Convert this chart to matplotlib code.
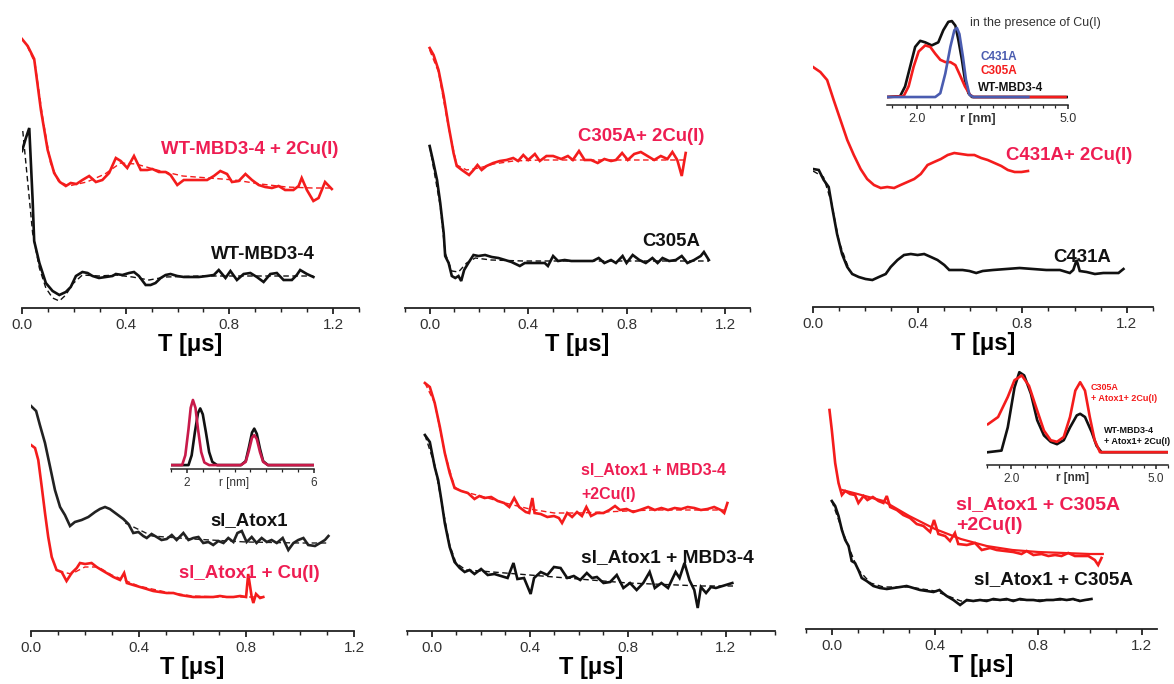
import matplotlib
matplotlib.use("Agg")
import matplotlib.pyplot as plt
import numpy as np

plt.rcParams['font.family'] = ['Liberation Sans', 'DejaVu Sans']

W, H = 1174, 684
RED = '#f41c1c'
TXTRED = '#ee1d52'
BLK = '#111111'
BLUE = '#4a5cb0'
CRIM = '#c81a4a'

# ---- panel 1: WT-MBD3-4 ----
p1_red_t = [0, 0.022, 0.047, 0.073, 0.099, 0.124, 0.146, 0.169, 0.188, 0.21, 0.233, 0.259, 0.285, 0.31,
            0.336, 0.362, 0.381, 0.406, 0.432, 0.458, 0.483, 0.503, 0.528, 0.554, 0.573, 0.599, 0.624,
            0.656, 0.682, 0.714, 0.74, 0.765, 0.791, 0.81, 0.836, 0.862, 0.887, 0.913, 0.938, 0.964,
            0.99, 1.015, 1.047, 1.067, 1.079, 1.099, 1.124, 1.144, 1.169, 1.195]
p1_red_v = [2.69, 2.62, 2.49, 1.98, 1.58, 1.35, 1.26, 1.22, 1.25, 1.24, 1.28, 1.32, 1.26, 1.28,
            1.35, 1.50, 1.47, 1.40, 1.52, 1.38, 1.38, 1.39, 1.36, 1.36, 1.33, 1.23, 1.28,
            1.28, 1.28, 1.28, 1.32, 1.37, 1.34, 1.26, 1.27, 1.34, 1.28, 1.23, 1.21, 1.20,
            1.22, 1.18, 1.18, 1.22, 1.30, 1.18, 1.07, 1.10, 1.26, 1.19]
p1_redfit_t = [0.02, 0.05, 0.08, 0.11, 0.14, 0.18, 0.25, 0.32, 0.38, 0.44, 0.52, 0.62, 0.72, 0.82, 0.92, 1.02, 1.12, 1.2]
p1_redfit_v = [2.62, 2.45, 1.90, 1.45, 1.27, 1.22, 1.26, 1.34, 1.45, 1.44, 1.38, 1.32, 1.30, 1.28, 1.24, 1.21, 1.20, 1.20]
p1_blk_t = [0, 0.015, 0.028, 0.041, 0.047, 0.067, 0.092, 0.118, 0.144, 0.169, 0.188, 0.208, 0.233, 0.253,
            0.272, 0.297, 0.323, 0.349, 0.362, 0.387, 0.413, 0.432, 0.451, 0.477, 0.496, 0.515, 0.535,
            0.554, 0.573, 0.599, 0.624, 0.656, 0.682, 0.714, 0.74, 0.759, 0.785, 0.804, 0.829, 0.855,
            0.881, 0.906, 0.932, 0.958, 0.983, 1.009, 1.041, 1.06, 1.073, 1.099, 1.124]
p1_blk_v = [1.57, 1.70, 1.80, 1.08, 0.67, 0.45, 0.25, 0.17, 0.13, 0.16, 0.21, 0.32, 0.36, 0.35,
            0.32, 0.30, 0.31, 0.32, 0.34, 0.33, 0.35, 0.36, 0.32, 0.23, 0.23, 0.25, 0.30,
            0.33, 0.34, 0.32, 0.31, 0.31, 0.31, 0.32, 0.33, 0.38, 0.30, 0.37, 0.28, 0.34,
            0.35, 0.31, 0.26, 0.34, 0.35, 0.28, 0.28, 0.33, 0.38, 0.34, 0.31]
p1_blkfit_t = [0.003, 0.041, 0.067, 0.092, 0.118, 0.144, 0.169, 0.195, 0.233, 0.297, 0.362, 0.426, 0.49, 0.554, 0.682, 0.81, 0.938, 1.124]
p1_blkfit_v = [1.77, 0.75, 0.40, 0.20, 0.10, 0.07, 0.13, 0.24, 0.33, 0.32, 0.33, 0.31, 0.28, 0.31, 0.32, 0.32, 0.32, 0.32]

# ---- panel 2: C305A ----
p2_red_t = [0, 0.016, 0.036, 0.057, 0.077, 0.097, 0.11, 0.131, 0.16, 0.178, 0.194, 0.211, 0.231, 0.258,
            0.285, 0.312, 0.339, 0.359, 0.38, 0.4, 0.427, 0.447, 0.474, 0.501, 0.534, 0.561, 0.581,
            0.606, 0.629, 0.655, 0.682, 0.709, 0.736, 0.756, 0.781, 0.804, 0.83, 0.857, 0.884, 0.911,
            0.938, 0.965, 0.985, 1.005, 1.023, 1.039]
p2_red_v = [2.60, 2.53, 2.38, 2.12, 1.82, 1.55, 1.42, 1.38, 1.33, 1.38, 1.43, 1.38, 1.42, 1.45,
            1.47, 1.48, 1.50, 1.47, 1.53, 1.48, 1.54, 1.47, 1.52, 1.52, 1.49, 1.52, 1.48,
            1.57, 1.48, 1.48, 1.45, 1.49, 1.47, 1.48, 1.55, 1.48, 1.54, 1.56, 1.52, 1.48,
            1.52, 1.49, 1.56, 1.48, 1.32, 1.55]
p2_redfit_t = [0.0, 0.036, 0.077, 0.11, 0.15, 0.2, 0.26, 0.34, 0.45, 0.6, 0.75, 0.9, 1.04]
p2_redfit_v = [2.58, 2.36, 1.80, 1.43, 1.38, 1.40, 1.44, 1.47, 1.48, 1.48, 1.48, 1.48, 1.48]
p2_blk_t = [0, 0.013, 0.03, 0.043, 0.057, 0.063, 0.077, 0.09, 0.104, 0.117, 0.128, 0.14, 0.157, 0.178,
            0.198, 0.225, 0.252, 0.279, 0.306, 0.332, 0.366, 0.386, 0.413, 0.44, 0.467, 0.48, 0.501,
            0.521, 0.548, 0.575, 0.602, 0.635, 0.662, 0.686, 0.709, 0.736, 0.756, 0.783, 0.799, 0.824,
            0.851, 0.877, 0.904, 0.925, 0.945, 0.972, 0.999, 1.023, 1.046, 1.073, 1.1, 1.113, 1.133]
p2_blk_v = [1.62, 1.48, 1.28, 1.05, 0.75, 0.52, 0.45, 0.32, 0.30, 0.32, 0.27, 0.38, 0.45, 0.53,
            0.52, 0.53, 0.51, 0.50, 0.48, 0.46, 0.42, 0.45, 0.45, 0.45, 0.45, 0.42, 0.52,
            0.47, 0.48, 0.47, 0.47, 0.47, 0.47, 0.50, 0.45, 0.48, 0.45, 0.52, 0.45, 0.53,
            0.48, 0.45, 0.50, 0.45, 0.50, 0.47, 0.48, 0.52, 0.45, 0.48, 0.52, 0.56, 0.48]
p2_blkfit_t = [0, 0.043, 0.063, 0.09, 0.117, 0.15, 0.185, 0.25, 0.38, 0.65, 0.92, 1.133]
p2_blkfit_v = [1.62, 1.02, 0.55, 0.37, 0.36, 0.45, 0.50, 0.48, 0.47, 0.47, 0.47, 0.47]

# ---- panel 3: C431A ----
p3_red_t = [0, 0.028, 0.054, 0.079, 0.105, 0.131, 0.156, 0.182, 0.207, 0.233, 0.259, 0.284, 0.31, 0.335,
            0.361, 0.387, 0.412, 0.438, 0.463, 0.489, 0.515, 0.54, 0.566, 0.592, 0.617, 0.643, 0.668,
            0.694, 0.72, 0.745, 0.771, 0.797, 0.822]
p3_red_v = [2.40, 2.35, 2.27, 2.07, 1.87, 1.67, 1.52, 1.38, 1.28, 1.22, 1.19, 1.20, 1.19, 1.22,
            1.25, 1.28, 1.33, 1.42, 1.45, 1.48, 1.52, 1.54, 1.53, 1.52, 1.52, 1.49, 1.47,
            1.44, 1.41, 1.37, 1.35, 1.35, 1.36]
p3_blk_t = [0, 0.022, 0.041, 0.06, 0.073, 0.092, 0.111, 0.131, 0.15, 0.175, 0.201, 0.227, 0.252, 0.278,
            0.297, 0.323, 0.348, 0.374, 0.4, 0.425, 0.451, 0.476, 0.502, 0.521, 0.547, 0.572, 0.598,
            0.624, 0.649, 0.688, 0.739, 0.79, 0.841, 0.892, 0.944, 0.982, 0.995, 1.008, 1.02, 1.046,
            1.078, 1.11, 1.142, 1.168, 1.187]
p3_blk_v = [1.38, 1.37, 1.27, 1.20, 1.00, 0.73, 0.53, 0.40, 0.33, 0.30, 0.28, 0.27, 0.30, 0.33,
            0.40, 0.47, 0.52, 0.53, 0.52, 0.53, 0.50, 0.47, 0.42, 0.37, 0.37, 0.37, 0.36,
            0.34, 0.36, 0.37, 0.38, 0.39, 0.38, 0.37, 0.37, 0.34, 0.37, 0.47, 0.36, 0.35,
            0.33, 0.34, 0.34, 0.34, 0.38]
p3_blkfit_t = [0, 0.04, 0.07, 0.1, 0.14]
p3_blkfit_v = [1.36, 1.30, 1.05, 0.65, 0.36]

# inset 3: distance distributions in the presence of Cu(I)
in3_blk_r = [1.40, 1.66, 1.76, 1.86, 1.96, 2.06, 2.16, 2.29, 2.42, 2.52, 2.62, 2.69, 2.76, 2.82, 2.89, 2.95, 3.02, 3.09, 4.98]
in3_blk_p = [0, 0.01, 0.14, 0.40, 0.66, 0.74, 0.72, 0.68, 0.72, 0.88, 0.99, 1.0, 0.94, 0.75, 0.49, 0.23, 0.05, 0, 0]
in3_red_r = [1.40, 1.73, 1.83, 1.93, 2.03, 2.16, 2.26, 2.36, 2.46, 2.56, 2.66, 2.76, 2.85, 2.95, 3.05, 3.12, 4.95]
in3_red_p = [0, 0.01, 0.14, 0.40, 0.60, 0.68, 0.66, 0.57, 0.49, 0.46, 0.46, 0.42, 0.29, 0.14, 0.03, 0, 0]
in3_blue_r = [1.40, 2.36, 2.46, 2.56, 2.66, 2.74, 2.79, 2.84, 2.91, 2.97, 3.04, 3.12, 4.21]
in3_blue_p = [0, 0, 0.05, 0.31, 0.66, 0.88, 0.91, 0.83, 0.53, 0.23, 0.03, 0, 0]

# ---- panel 4: sl_Atox1 ----
p4_blk_t = [0, 0.019, 0.033, 0.052, 0.071, 0.089, 0.108, 0.126, 0.145, 0.163, 0.188, 0.213, 0.238, 0.256,
            0.275, 0.293, 0.318, 0.343, 0.362, 0.38, 0.399, 0.417, 0.43, 0.448, 0.467, 0.485, 0.504,
            0.523, 0.541, 0.566, 0.585, 0.603, 0.622, 0.64, 0.659, 0.677, 0.696, 0.715, 0.733, 0.752,
            0.767, 0.783, 0.801, 0.82, 0.838, 0.857, 0.876, 0.894, 0.913, 0.935, 0.956, 0.975, 0.993,
            1.012, 1.03, 1.055, 1.074, 1.092, 1.105]
p4_blk_v = [2.25, 2.20, 2.06, 1.88, 1.64, 1.41, 1.24, 1.16, 1.05, 1.09, 1.11, 1.14, 1.19, 1.22,
            1.24, 1.22, 1.17, 1.12, 1.07, 0.98, 0.99, 0.95, 0.93, 0.97, 0.94, 0.91, 0.92,
            0.96, 0.91, 0.98, 0.91, 0.93, 0.94, 0.88, 0.89, 0.86, 0.90, 0.88, 0.93, 0.89,
            0.98, 1.00, 0.89, 0.94, 0.88, 0.93, 0.89, 0.91, 0.88, 0.93, 0.81, 0.88, 0.91,
            0.93, 0.86, 0.85, 0.88, 0.91, 0.95]
p4_blkfit_t = [0.35, 0.45, 0.6, 0.8, 1.0, 1.1]
p4_blkfit_v = [1.08, 0.95, 0.92, 0.89, 0.88, 0.88]
p4_red_t = [0, 0.015, 0.027, 0.04, 0.052, 0.064, 0.077, 0.095, 0.114, 0.132, 0.151, 0.17, 0.182, 0.201,
            0.225, 0.244, 0.262, 0.281, 0.306, 0.331, 0.346, 0.356, 0.38, 0.405, 0.43, 0.454, 0.479,
            0.504, 0.529, 0.554, 0.578, 0.603, 0.628, 0.653, 0.677, 0.702, 0.727, 0.752, 0.777, 0.799,
            0.807, 0.82, 0.826, 0.836, 0.851, 0.863]
p4_red_v = [1.86, 1.83, 1.71, 1.44, 1.18, 0.94, 0.74, 0.61, 0.59, 0.50, 0.58, 0.63, 0.68, 0.67,
            0.68, 0.64, 0.61, 0.58, 0.54, 0.51, 0.58, 0.48, 0.46, 0.44, 0.42, 0.40, 0.39,
            0.38, 0.38, 0.36, 0.35, 0.34, 0.34, 0.34, 0.34, 0.35, 0.34, 0.34, 0.35, 0.34,
            0.57, 0.34, 0.28, 0.37, 0.33, 0.34]
p4_redfit_t = [0.1, 0.15, 0.2, 0.25, 0.3, 0.4, 0.5, 0.6, 0.7, 0.86]
p4_redfit_v = [0.60, 0.57, 0.64, 0.64, 0.56, 0.45, 0.39, 0.35, 0.34, 0.34]

# inset 4
in4_red_r = [1.5, 1.85, 1.95, 2.05, 2.12, 2.19, 2.27, 2.35, 2.45, 2.55, 2.7, 3.7, 3.85, 3.95, 4.05, 4.12, 4.2, 4.3, 4.4, 4.55, 6.0]
in4_red_p = [0, 0, 0.15, 0.55, 0.88, 1.0, 0.88, 0.55, 0.2, 0.04, 0, 0, 0.05, 0.22, 0.42, 0.46, 0.40, 0.2, 0.05, 0, 0]
in4_blk_r = [1.5, 2.05, 2.15, 2.25, 2.35, 2.42, 2.5, 2.6, 2.7, 2.8, 2.95, 3.7, 3.85, 3.95, 4.05, 4.12, 4.2, 4.3, 4.4, 4.55, 6.0]
in4_blk_p = [0, 0, 0.15, 0.5, 0.8, 0.87, 0.78, 0.5, 0.2, 0.05, 0, 0, 0.06, 0.27, 0.50, 0.56, 0.48, 0.25, 0.06, 0, 0]

# ---- panel 5: sl_Atox1 + MBD3-4 ----
p5_red_t = [-0.027, -0.007, 0.013, 0.034, 0.054, 0.074, 0.094, 0.121, 0.148, 0.175, 0.195, 0.216, 0.243,
            0.27, 0.296, 0.317, 0.337, 0.357, 0.384, 0.398, 0.411, 0.42, 0.445, 0.472, 0.499, 0.519,
            0.532, 0.553, 0.573, 0.593, 0.613, 0.631, 0.65, 0.674, 0.701, 0.725, 0.748, 0.768, 0.795,
            0.822, 0.849, 0.883, 0.91, 0.937, 0.964, 0.991, 1.018, 1.044, 1.071, 1.098, 1.125, 1.152,
            1.179, 1.193, 1.206]
p5_red_v = [2.48, 2.44, 2.28, 2.04, 1.78, 1.58, 1.43, 1.40, 1.38, 1.32, 1.35, 1.33, 1.34,
            1.30, 1.28, 1.24, 1.33, 1.24, 1.19, 1.18, 1.33, 1.18, 1.17, 1.14, 1.15, 1.13,
            1.08, 1.18, 1.14, 1.19, 1.15, 1.24, 1.15, 1.18, 1.18, 1.21, 1.25, 1.21, 1.22,
            1.19, 1.21, 1.24, 1.21, 1.23, 1.21, 1.23, 1.22, 1.24, 1.23, 1.21, 1.22, 1.24,
            1.21, 1.18, 1.28]
p5_redfit_t = [-0.027, 0.013, 0.054, 0.094, 0.12, 0.2, 0.3, 0.4, 0.5, 0.6, 0.7, 0.8, 0.9, 1.0, 1.2]
p5_redfit_v = [2.48, 2.28, 1.78, 1.44, 1.40, 1.35, 1.28, 1.22, 1.18, 1.18, 1.19, 1.20, 1.21, 1.21, 1.21]
p5_blk_t = [-0.027, -0.007, 0.013, 0.027, 0.04, 0.054, 0.074, 0.094, 0.115, 0.135, 0.155, 0.175, 0.202,
            0.229, 0.256, 0.283, 0.31, 0.334, 0.35, 0.377, 0.404, 0.418, 0.445, 0.472, 0.499, 0.526,
            0.553, 0.58, 0.606, 0.633, 0.654, 0.674, 0.701, 0.728, 0.755, 0.782, 0.809, 0.836, 0.863,
            0.889, 0.91, 0.937, 0.964, 0.995, 1.011, 1.031, 1.051, 1.071, 1.085, 1.098, 1.119, 1.139,
            1.159, 1.186, 1.226]
p5_blk_v = [1.96, 1.89, 1.64, 1.51, 1.31, 1.08, 0.84, 0.69, 0.63, 0.59, 0.61, 0.57, 0.62,
            0.56, 0.57, 0.55, 0.53, 0.68, 0.52, 0.53, 0.37, 0.53, 0.59, 0.56, 0.64, 0.63,
            0.53, 0.55, 0.51, 0.58, 0.53, 0.54, 0.48, 0.49, 0.56, 0.43, 0.48, 0.41, 0.48,
            0.59, 0.43, 0.48, 0.43, 0.59, 0.53, 0.68, 0.51, 0.41, 0.23, 0.44, 0.38, 0.44,
            0.43, 0.45, 0.48]
p5_blkfit_t = [-0.027, 0.013, 0.04, 0.074, 0.1, 0.14, 0.2, 0.3, 0.4, 0.5, 0.6, 0.7, 0.8, 0.9, 1.0, 1.1, 1.23]
p5_blkfit_v = [1.96, 1.66, 1.30, 0.86, 0.68, 0.61, 0.60, 0.58, 0.56, 0.54, 0.52, 0.50, 0.48, 0.47, 0.46, 0.45, 0.45]

# ---- panel 6: sl_Atox1 + C305A ----
p6_red_t = [-0.009, 0, 0.013, 0.026, 0.039, 0.052, 0.071, 0.09, 0.103, 0.123, 0.138, 0.159, 0.181, 0.2,
            0.213, 0.226, 0.252, 0.277, 0.303, 0.329, 0.355, 0.381, 0.396, 0.413, 0.439, 0.458, 0.477,
            0.49, 0.523, 0.555, 0.581, 0.613, 0.639, 0.671, 0.703, 0.735, 0.755, 0.781, 0.813, 0.839,
            0.865, 0.89, 0.916, 0.942, 0.968, 0.994, 1.019, 1.032, 1.045]
p6_red_v = [2.19, 1.99, 1.66, 1.46, 1.34, 1.38, 1.35, 1.34, 1.26, 1.33, 1.29, 1.32, 1.28, 1.26,
            1.33, 1.22, 1.19, 1.14, 1.11, 1.05, 1.03, 0.97, 1.09, 0.95, 0.93, 0.88, 0.96,
            0.85, 0.84, 0.86, 0.79, 0.81, 0.79, 0.78, 0.77, 0.75, 0.78, 0.74, 0.75, 0.73,
            0.74, 0.73, 0.76, 0.73, 0.73, 0.73, 0.69, 0.64, 0.71]
p6_redfit_t = [0.04, 0.1, 0.2, 0.3, 0.4, 0.5, 0.6, 0.7, 0.8, 0.9, 1.0, 1.05]
p6_redfit_v = [1.39, 1.35, 1.28, 1.13, 1.00, 0.90, 0.83, 0.79, 0.77, 0.76, 0.75, 0.75]
p6_blk_t = [0, 0.013, 0.026, 0.039, 0.052, 0.065, 0.077, 0.09, 0.103, 0.116, 0.135, 0.161, 0.187, 0.213,
            0.239, 0.265, 0.29, 0.316, 0.342, 0.368, 0.394, 0.417, 0.43, 0.445, 0.471, 0.497, 0.523,
            0.548, 0.574, 0.6, 0.626, 0.652, 0.677, 0.703, 0.729, 0.755, 0.781, 0.806, 0.832, 0.858,
            0.884, 0.91, 0.935, 0.961, 0.981, 1.006]
p6_blk_v = [1.28, 1.23, 1.13, 0.99, 0.89, 0.83, 0.68, 0.66, 0.59, 0.51, 0.48, 0.43, 0.41, 0.40,
            0.41, 0.42, 0.43, 0.41, 0.39, 0.38, 0.37, 0.39, 0.36, 0.33, 0.29, 0.24, 0.29,
            0.28, 0.29, 0.28, 0.30, 0.29, 0.30, 0.28, 0.30, 0.29, 0.29, 0.28, 0.29, 0.29,
            0.30, 0.29, 0.30, 0.28, 0.29, 0.30]
p6_blkfit_t = [0, 0.05, 0.1, 0.15, 0.2, 0.3, 0.4, 0.45, 0.5, 0.6, 0.8, 1.0]
p6_blkfit_v = [1.28, 0.92, 0.60, 0.46, 0.42, 0.42, 0.38, 0.33, 0.28, 0.29, 0.29, 0.29]

# inset 6
in6_blk_r = [1.52, 1.80, 1.93, 2.07, 2.17, 2.27, 2.41, 2.54, 2.68, 2.82, 2.95, 3.09, 3.22, 3.36, 3.43, 3.53, 3.67, 3.77, 3.87, 4.01, 5.23]
in6_blk_p = [0, 0.02, 0.31, 0.81, 1.0, 0.96, 0.73, 0.40, 0.21, 0.13, 0.10, 0.15, 0.31, 0.46, 0.48, 0.44, 0.25, 0.08, 0, 0, 0]
in6_red_r = [1.52, 1.73, 1.93, 2.07, 2.22, 2.37, 2.54, 2.68, 2.82, 2.95, 3.09, 3.22, 3.33, 3.43, 3.53, 3.63, 3.73, 3.84, 3.97, 5.23]
in6_red_p = [0.35, 0.44, 0.69, 0.90, 0.96, 0.83, 0.52, 0.27, 0.15, 0.13, 0.19, 0.44, 0.77, 0.875, 0.77, 0.44, 0.15, 0, 0, 0]


def box(l, r, b, t):
    return [l / W, 1 - b / H, (r - l) / W, (b - t) / H]


def style(ax, xlim, ylim, major, minor, size, lw, tl):
    ax.set_xlim(*xlim)
    ax.set_ylim(*ylim)
    for s in ['left', 'top', 'right']:
        ax.spines[s].set_visible(False)
    ax.spines['bottom'].set_linewidth(lw)
    ax.spines['bottom'].set_color('#222222')
    ax.set_yticks([])
    ax.set_xticks(major)
    ax.set_xticks(minor, minor=True)
    ax.tick_params(axis='x', which='major', length=tl, width=lw, direction='out',
                   labelsize=size, labelcolor='#333333', color='#222222', pad=3)
    ax.tick_params(axis='x', which='minor', length=tl * 0.7, width=lw * 0.8,
                   direction='out', color='#222222')
    ax.patch.set_alpha(0)


def main_panel(rect, xlim, ymax, minor):
    ax = fig.add_axes(rect)
    style(ax, xlim, (0, ymax), [0.0, 0.4, 0.8, 1.2], minor, 11, 1.3, 4)
    ax.set_xticklabels(['0.0', '0.4', '0.8', '1.2'])
    ax.set_xlabel('T [μs]', fontsize=17, fontweight='bold', labelpad=1)
    return ax


fig = plt.figure(figsize=(W / 100, H / 100), dpi=100)

sol = dict(lw=1.9, solid_joinstyle='miter')
fit = dict(lw=1.0, ls=(0, (4, 2.5)))
lab = dict(fontsize=13.4, fontweight='bold')

# panel 1
ax = main_panel(box(22, 359, 308, 8), (0, 1.3), 3.0, np.arange(0, 1.35, 0.1))
ax.plot(p1_red_t, p1_red_v, color=RED, **sol)
ax.plot(p1_redfit_t, p1_redfit_v, color=RED, **fit)
ax.plot(p1_blk_t, p1_blk_v, color=BLK, **sol)
ax.plot(p1_blkfit_t, p1_blkfit_v, color=BLK, **fit)
ax.text(0.88, 1.58, 'WT-MBD3-4 + 2Cu(I)', color=TXTRED, ha='center', va='center', **lab)
ax.text(0.93, 0.53, 'WT-MBD3-4', color=BLK, ha='center', va='center', **lab)

# panel 2
ax = main_panel(box(405, 750, 308, 8), (-0.1, 1.3), 3.0, np.arange(-0.1, 1.35, 0.1))
ax.plot(p2_red_t, p2_red_v, color=RED, **sol)
ax.plot(p2_redfit_t, p2_redfit_v, color=RED, **fit)
ax.plot(p2_blk_t, p2_blk_v, color=BLK, **sol)
ax.plot(p2_blkfit_t, p2_blkfit_v, color=BLK, **fit)
ax.text(0.86, 1.71, 'C305A+ 2Cu(I)', color=TXTRED, ha='center', va='center', **lab)
ax.text(0.98, 0.66, 'C305A', color=BLK, ha='center', va='center', **lab)

# panel 3
ax = main_panel(box(813, 1153, 307, 7), (0, 1.3), 3.0, np.arange(0, 1.35, 0.1))
ax.plot(p3_red_t, p3_red_v, color=RED, **sol)
ax.plot(p3_blk_t, p3_blk_v, color=BLK, **sol)
ax.plot(p3_blkfit_t, p3_blkfit_v, color=BLK, **fit)
ax.text(0.98, 1.52, 'C431A+ 2Cu(I)', color=TXTRED, ha='center', va='center', **lab)
ax.text(1.03, 0.50, 'C431A', color=BLK, ha='center', va='center', **lab)

ins = fig.add_axes(box(887, 1068, 105, 15))
style(ins, (1.4, 5.0), (-0.105, 1.08), [2.0, 5.0], np.arange(1.5, 5.01, 0.25), 9, 1.1, 3)
ins.set_xticklabels(['2.0', '5.0'])
ins.plot(in3_blk_r, in3_blk_p, color=BLK, lw=1.9)
ins.plot(in3_red_r, in3_red_p, color=RED, lw=1.9)
ins.plot(in3_blue_r, in3_blue_p, color=BLUE, lw=1.9)
ins.text(3.21, -0.16, 'r [nm]', transform=ins.get_xaxis_transform(), ha='center', va='center',
         fontsize=9, fontweight='bold', color='#333333')
ins.text(3.05, 0.97, 'in the presence of Cu(I)', ha='left', va='center', fontsize=9, color='#333333')
ins.text(3.25, 0.53, 'C431A', ha='left', va='center', fontsize=8.5, fontweight='bold', color=BLUE)
ins.text(3.25, 0.34, 'C305A', ha='left', va='center', fontsize=8.5, fontweight='bold', color=RED)
ins.text(3.21, 0.12, 'WT-MBD3-4', ha='left', va='center', fontsize=8.5, fontweight='bold', color=BLK)

# panel 4
ax = fig.add_axes(box(31, 354, 631, 381))
style(ax, (0, 1.2), (0, 2.5), [0.0, 0.4, 0.8, 1.2], np.arange(0, 1.25, 0.1), 11, 1.3, 4)
ax.set_xticklabels(['0.0', '0.4', '0.8', '1.2'])
ax.set_xlabel('T [μs]', fontsize=17, fontweight='bold', labelpad=1)
ax.plot(p4_blk_t, p4_blk_v, color='#222222', **sol)
ax.plot(p4_blkfit_t, p4_blkfit_v, color='#222222', **fit)
ax.plot(p4_red_t, p4_red_v, color=RED, **sol)
ax.plot(p4_redfit_t, p4_redfit_v, color=RED, **fit)
ax.text(0.81, 1.10, 'sl_Atox1', color=BLK, ha='center', va='center', **lab)
ax.text(0.81, 0.58, 'sl_Atox1 + Cu(I)', color=TXTRED, ha='center', va='center', **lab)

ins = fig.add_axes(box(171, 314, 469, 385))
style(ins, (1.5, 6.0), (-0.06, 1.23), [2, 6], np.arange(1.5, 6.01, 0.5), 8.5, 1.1, 3)
ins.set_xticklabels(['2', '6'])
ins.plot(in4_blk_r, in4_blk_p, color=BLK, lw=1.9)
ins.plot(in4_red_r, in4_red_p, color=CRIM, lw=1.9)
ins.text(3.5, -0.17, 'r [nm]', transform=ins.get_xaxis_transform(), ha='center', va='center',
         fontsize=8.5, color='#333333')

# panel 5
ax = main_panel(box(407, 775, 631, 381), (-0.1, 1.4), 2.5, np.arange(-0.1, 1.45, 0.1))
ax.plot(p5_red_t, p5_red_v, color=RED, **sol)
ax.plot(p5_redfit_t, p5_redfit_v, color=RED, **fit)
ax.plot(p5_blk_t, p5_blk_v, color=BLK, **sol)
ax.plot(p5_blkfit_t, p5_blkfit_v, color=BLK, **fit)
ax.text(0.61, 1.61, 'sl_Atox1 + MBD3-4', color=TXTRED, ha='left', va='center',
        fontsize=11.5, fontweight='bold')
ax.text(0.61, 1.36, '+2Cu(I)', color=TXTRED, ha='left', va='center', fontsize=11.5, fontweight='bold')
ax.text(0.61, 0.73, 'sl_Atox1 + MBD3-4', color=BLK, ha='left', va='center',
        fontsize=13.8, fontweight='bold')

# panel 6
ax = main_panel(box(806, 1157, 629, 379), (-0.1, 1.26), 2.5, np.arange(-0.1, 1.25, 0.1))
ax.plot(p6_red_t, p6_red_v, color=RED, **sol)
ax.plot(p6_redfit_t, p6_redfit_v, color=RED, lw=1.6)
ax.plot(p6_blk_t, p6_blk_v, color=BLK, **sol)
ax.plot(p6_blkfit_t, p6_blkfit_v, color=BLK, **fit)
ax.text(0.48, 1.24, 'sl_Atox1 + C305A', color=TXTRED, ha='left', va='center', fontsize=14, fontweight='bold')
ax.text(0.48, 1.04, '+2Cu(I)', color=TXTRED, ha='left', va='center', fontsize=14, fontweight='bold')
ax.text(0.55, 0.49, 'sl_Atox1 + C305A', color=BLK, ha='left', va='center', fontsize=13.6, fontweight='bold')

ins = fig.add_axes(box(987, 1168, 465, 365))
style(ins, (1.5, 5.25), (-0.16, 1.09), [2.0, 5.0], np.arange(1.5, 5.26, 0.25), 8.5, 1.1, 3)
ins.set_xticklabels(['2.0', '5.0'])
ins.plot(in6_blk_r, in6_blk_p, color=BLK, lw=1.9)
ins.plot(in6_red_r, in6_red_p, color=RED, lw=1.9)
ins.text(3.28, -0.13, 'r [nm]', transform=ins.get_xaxis_transform(), ha='center', va='center',
         fontsize=8.5, fontweight='bold', color='#333333')
ins.text(3.65, 0.81, 'C305A', ha='left', va='center', fontsize=6.5, fontweight='bold', color=RED)
ins.text(3.65, 0.675, '+ Atox1+ 2Cu(I)', ha='left', va='center', fontsize=6.5, fontweight='bold', color=RED)
ins.text(3.92, 0.275, 'WT-MBD3-4', ha='left', va='center', fontsize=6.5, fontweight='bold', color=BLK)
ins.text(3.92, 0.14, '+ Atox1+ 2Cu(I)', ha='left', va='center', fontsize=6.5, fontweight='bold', color=BLK)

fig.savefig('out.png', dpi=100)
